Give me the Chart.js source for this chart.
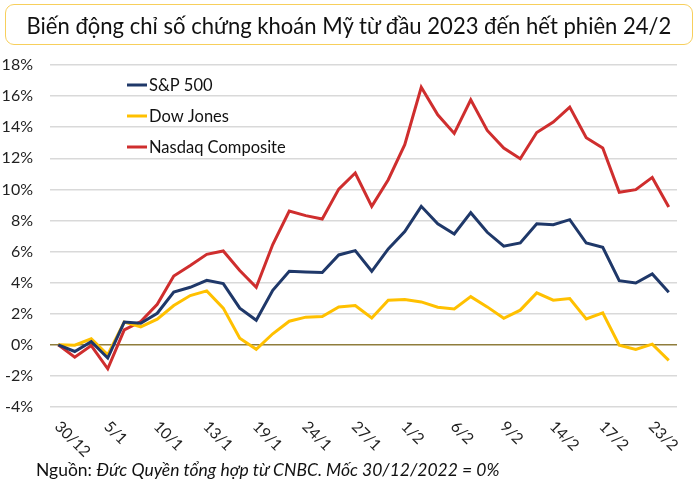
<!DOCTYPE html>
<html>
<head>
<meta charset="utf-8">
<script src="https://cdn.jsdelivr.net/npm/chart.js@4"></script>
<style>
  body { margin: 0; background: #fff; font-family: Lato, sans-serif; }
  #wrap { position: relative; width: 700px; height: 490px; }
  #title {
    position: absolute; left: 5px; top: 4px; width: 688px; height: 41px;
    border: 1.5px solid #f7cf5c; border-radius: 9px; box-sizing: border-box;
    display: flex; align-items: center; justify-content: center;
    font-family: Lato, sans-serif; font-size: 24px; color: #111; white-space: nowrap;
  }
  #title span { display: inline-block; transform-origin: center; }
  #note {
    position: absolute; left: 36px; top: 459px;
    font-family: Lato, sans-serif; font-size: 17.5px; color: #111;
  }
</style>
</head>
<body>
<div id="wrap">
  <canvas id="chart"></canvas>
  <div id="title"><span>Biến động chỉ số chứng khoán Mỹ từ đầu 2023 đến hết phiên 24/2</span></div>
  <div id="note">Nguồn: <i>Đức Quyền tổng hợp từ CNBC. Mốc 30/12/2022 = 0%</i></div>
</div>
<script>
// phiên giao dịch từ 30/12/2022 tới 24/2/2023
const dates = ['30/12','3/1','4/1','5/1','6/1','9/1','10/1','11/1','12/1','13/1',
  '17/1','18/1','19/1','20/1','23/1','24/1','25/1','26/1','27/1','30/1','31/1',
  '1/2','2/2','3/2','6/2','7/2','8/2','9/2','10/2','13/2','14/2','15/2','16/2',
  '17/2','21/2','22/2','23/2','24/2'];

const sp500 = [0, -0.43, 0.2, -0.85, 1.46, 1.39, 2.03, 3.4, 3.7, 4.15,
  3.94, 2.36, 1.58, 3.51, 4.73, 4.69, 4.65, 5.78, 6.06, 4.73, 6.17,
  7.28, 8.91, 7.79, 7.13, 8.5, 7.24, 6.34, 6.55, 7.79, 7.73, 8.05, 6.55,
  6.27, 4.13, 3.98, 4.56, 3.38];

const dowJones = [0, -0.02, 0.39, -0.64, 1.46, 1.16, 1.65, 2.53, 3.17, 3.47,
  2.36, 0.43, -0.29, 0.71, 1.52, 1.78, 1.82, 2.44, 2.53, 1.73, 2.87,
  2.91, 2.76, 2.42, 2.31, 3.1, 2.44, 1.71, 2.23, 3.34, 2.87, 2.98, 1.67,
  2.06, -0.02, -0.3, 0.04, -1.0];

const nasdaq = [0, -0.8, -0.05, -1.54, 0.96, 1.5, 2.61, 4.43, 5.1, 5.82,
  6.04, 4.78, 3.7, 6.45, 8.61, 8.31, 8.09, 10.02, 11.05, 8.91, 10.62,
  12.87, 16.57, 14.8, 13.6, 15.76, 13.79, 12.66, 11.97, 13.66, 14.33, 15.29, 13.32,
  12.66, 9.81, 9.98, 10.77, 8.87];

const tickLabels = ['30/12','5/1','10/1','13/1','19/1','24/1','27/1','1/2','6/2','9/2','14/2','17/2','23/2'];

// fit the title to the width of the original
const titleSpan = document.querySelector('#title span');
titleSpan.style.transform = 'scaleX(' + (645 / titleSpan.offsetWidth) + ')';

const seriesLine = (label, values, color) => ({
  label: label,
  data: values,
  borderColor: color,
  backgroundColor: color,
  borderWidth: 3,
  pointRadius: 0,
  tension: 0
});

// rotated date labels (down-right) and the legend inside the plot
const extras = {
  id: 'extras',
  afterDraw(chart) {
    const ctx = chart.ctx;
    const x = chart.scales.x;
    ctx.save();
    ctx.fillStyle = '#222';
    ctx.font = '15.5px Lato';
    ctx.textAlign = 'left';
    ctx.textBaseline = 'middle';
    tickLabels.forEach(t => {
      const px = x.getPixelForValue(dates.indexOf(t));
      ctx.save();
      ctx.translate(px - 1, chart.chartArea.bottom + 17);
      ctx.rotate(Math.PI / 4);
      ctx.fillText(t, 0, 0);
      ctx.restore();
    });

    ctx.font = '16.5px Lato';
    chart.data.datasets.forEach((ds, i) => {
      const y = 85 + i * 31;
      ctx.strokeStyle = ds.borderColor;
      ctx.lineWidth = 3;
      ctx.beginPath();
      ctx.moveTo(127, y);
      ctx.lineTo(147, y);
      ctx.stroke();
      ctx.fillStyle = '#111';
      ctx.fillText(ds.label, 149, y + 1);
    });
    ctx.restore();
  }
};

new Chart(document.getElementById('chart'), {
  type: 'line',
  data: {
    labels: dates,
    datasets: [
      seriesLine('S&P 500', sp500, '#1f3869'),
      seriesLine('Dow Jones', dowJones, '#ffc000'),
      seriesLine('Nasdaq Composite', nasdaq, '#cf2e2e')
    ]
  },
  options: {
    responsive: true,
    maintainAspectRatio: false,
    animation: false,
    layout: { padding: { top: 65, right: 23, bottom: 83, left: 0 } },
    plugins: { legend: { display: false }, tooltip: { enabled: false } },
    scales: {
      x: {
        offset: true,
        grid: { display: false },
        border: { display: false },
        ticks: { display: false },
        afterFit: s => { s.height = 0; }
      },
      y: {
        min: -4,
        max: 18,
        afterFit: s => { s.width = 50; },
        border: { display: false },
        grid: {
          drawTicks: false,
          lineWidth: 1.5,
          color: c => c.tick && c.tick.value === 0 ? '#8f7d3c' : '#d9d9d9'
        },
        ticks: {
          stepSize: 2,
          padding: 17,
          color: '#222',
          font: { family: 'Lato', size: 16 },
          callback: v => v + '%'
        }
      }
    }
  },
  plugins: [extras]
});
</script>
</body>
</html>
